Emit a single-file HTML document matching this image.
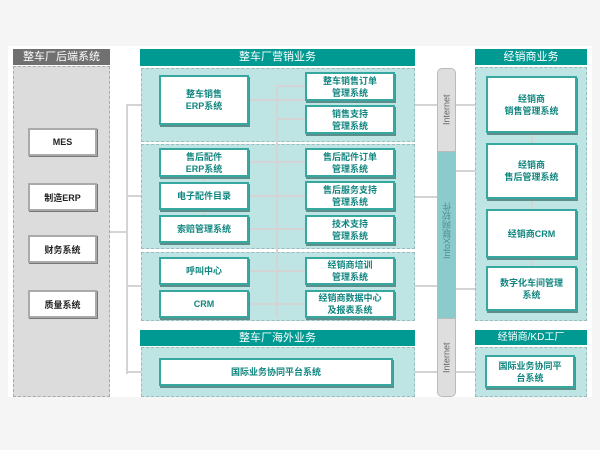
<!DOCTYPE html>
<html><head><meta charset="utf-8"><style>
body{margin:0;width:600px;height:450px;background:#f5f5f5;position:relative;overflow:hidden;font-family:"Liberation Sans","Noto Sans CJK SC",sans-serif}
div{position:absolute;box-sizing:border-box}
.hd{color:#fff;font-size:11px;text-align:center;line-height:16px;background:#009a92}
.grp{background:#bfe4e4;border:1px dashed #9cbcbc}
.b{background:#fff;border:2px solid #37a8a0;box-shadow:1px 2px 0 #5c8f8c;color:#10857f;font-size:9px;font-weight:bold;text-align:center;display:flex;align-items:center;justify-content:center;line-height:12px}
.g{background:#fff;border:2px solid #aaa;box-shadow:1px 1px 0 #777;color:#222;font-size:9px;font-weight:bold;display:flex;align-items:center;justify-content:center}
.l{background:#d4d4d4}
.vt{writing-mode:vertical-rl;transform:rotate(180deg);font-size:9px;display:flex;align-items:center;justify-content:center}
</style></head><body>
<div style="left:8px;top:46px;width:584px;height:351px;background:#fff"></div>
<!-- left -->
<div class="hd" style="left:13px;top:49px;width:97px;height:16px;background:#707070">整车厂后端系统</div>
<div style="left:13px;top:66px;width:97px;height:331px;background:#dcdcdc;border:1px dashed #aaa"></div>
<div class="g" style="left:28px;top:128px;width:69px;height:28px">MES</div>
<div class="g" style="left:28px;top:183px;width:69px;height:28px">制造ERP</div>
<div class="g" style="left:28px;top:235px;width:69px;height:28px">财务系统</div>
<div class="g" style="left:28px;top:290px;width:69px;height:28px">质量系统</div>
<!-- connectors left -->
<div class="l" style="left:126px;top:104px;width:2px;height:270px"></div>
<div class="l" style="left:110px;top:231px;width:17px;height:2px"></div>
<div class="l" style="left:126px;top:104px;width:15px;height:2px"></div>
<div class="l" style="left:126px;top:195px;width:15px;height:2px"></div>
<div class="l" style="left:126px;top:285px;width:15px;height:2px"></div>
<div class="l" style="left:126px;top:371px;width:15px;height:2px"></div>
<!-- center -->
<div class="hd" style="left:140px;top:49px;width:275px;height:17px">整车厂营销业务</div>
<div class="grp" style="left:141px;top:68px;width:274px;height:74px"></div>
<div class="grp" style="left:141px;top:144px;width:274px;height:105px"></div>
<div class="grp" style="left:141px;top:252px;width:274px;height:69px"></div>
<div class="hd" style="left:140px;top:330px;width:275px;height:16px">整车厂海外业务</div>
<div class="grp" style="left:141px;top:347px;width:274px;height:50px"></div>
<!-- inner connectors -->
<div class="l" style="left:276px;top:85px;width:2px;height:233px"></div>
<div class="l" style="left:249px;top:99px;width:56px;height:2px"></div>
<div class="l" style="left:276px;top:85px;width:29px;height:2px"></div>
<div class="l" style="left:276px;top:118px;width:29px;height:2px"></div>
<div class="l" style="left:249px;top:161px;width:56px;height:2px"></div>
<div class="l" style="left:249px;top:195px;width:56px;height:2px"></div>
<div class="l" style="left:249px;top:228px;width:56px;height:2px"></div>
<div class="l" style="left:249px;top:270px;width:56px;height:2px"></div>
<div class="l" style="left:249px;top:303px;width:56px;height:2px"></div>
<div class="l" style="left:203px;top:176px;width:2px;height:40px"></div>
<div class="b" style="left:159px;top:75px;width:90px;height:50px">整车销售<br>ERP系统</div>
<div class="b" style="left:305px;top:72px;width:90px;height:29px">整车销售订单<br>管理系统</div>
<div class="b" style="left:305px;top:105px;width:90px;height:29px">销售支持<br>管理系统</div>
<div class="b" style="left:159px;top:148px;width:90px;height:29px">售后配件<br>ERP系统</div>
<div class="b" style="left:159px;top:182px;width:90px;height:28px">电子配件目录</div>
<div class="b" style="left:159px;top:215px;width:90px;height:28px">索赔管理系统</div>
<div class="b" style="left:305px;top:148px;width:90px;height:29px">售后配件订单<br>管理系统</div>
<div class="b" style="left:305px;top:181px;width:90px;height:29px">售后服务支持<br>管理系统</div>
<div class="b" style="left:305px;top:215px;width:90px;height:29px">技术支持<br>管理系统</div>
<div class="b" style="left:159px;top:257px;width:90px;height:28px">呼叫中心</div>
<div class="b" style="left:159px;top:290px;width:90px;height:28px">CRM</div>
<div class="b" style="left:305px;top:257px;width:90px;height:28px">经销商培训<br>管理系统</div>
<div class="b" style="left:305px;top:290px;width:90px;height:28px">经销商数据中心<br>及报表系统</div>
<div class="b" style="left:159px;top:358px;width:234px;height:28px">国际业务协同平台系统</div>
<!-- bar connectors -->
<div class="l" style="left:415px;top:104px;width:22px;height:2px"></div>
<div class="l" style="left:415px;top:196px;width:22px;height:2px"></div>
<div class="l" style="left:415px;top:285px;width:22px;height:2px"></div>
<div class="l" style="left:415px;top:371px;width:22px;height:2px"></div>
<div class="l" style="left:456px;top:104px;width:30px;height:2px"></div>
<div class="l" style="left:456px;top:170px;width:30px;height:2px"></div>
<div class="l" style="left:456px;top:288px;width:30px;height:2px"></div>
<div class="l" style="left:456px;top:371px;width:30px;height:2px"></div>
<!-- bar -->
<div class="vt" style="left:437px;top:68px;width:19px;height:84px;background:#dedede;border:1px solid #bbb;border-radius:0 0 5px 5px;color:#666">Internet</div>
<div class="vt" style="left:437px;top:152px;width:19px;height:166px;background:#8ccbcb;color:#4a8f94;justify-content:flex-end;padding-bottom:50px">InfoX联网软件</div>
<div class="vt" style="left:437px;top:318px;width:19px;height:79px;background:#dedede;border:1px solid #bbb;border-radius:5px 5px 0 0;color:#666">Internet</div>
<!-- right -->
<div class="hd" style="left:475px;top:49px;width:112px;height:16px">经销商业务</div>
<div class="grp" style="left:475px;top:67px;width:112px;height:254px"></div>
<div class="l" style="left:531px;top:133px;width:2px;height:135px"></div>
<div class="b" style="left:486px;top:76px;width:91px;height:57px">经销商<br>销售管理系统</div>
<div class="b" style="left:486px;top:143px;width:91px;height:56px">经销商<br>售后管理系统</div>
<div class="b" style="left:486px;top:209px;width:91px;height:49px">经销商CRM</div>
<div class="b" style="left:486px;top:266px;width:91px;height:45px">数字化车间管理<br>系统</div>
<div class="hd" style="left:475px;top:330px;width:112px;height:15px;font-size:10px">经销商/KD工厂</div>
<div class="grp" style="left:475px;top:347px;width:112px;height:50px"></div>
<div class="b" style="left:485px;top:355px;width:90px;height:33px">国际业务协同平<br>台系统</div>
</body></html>
